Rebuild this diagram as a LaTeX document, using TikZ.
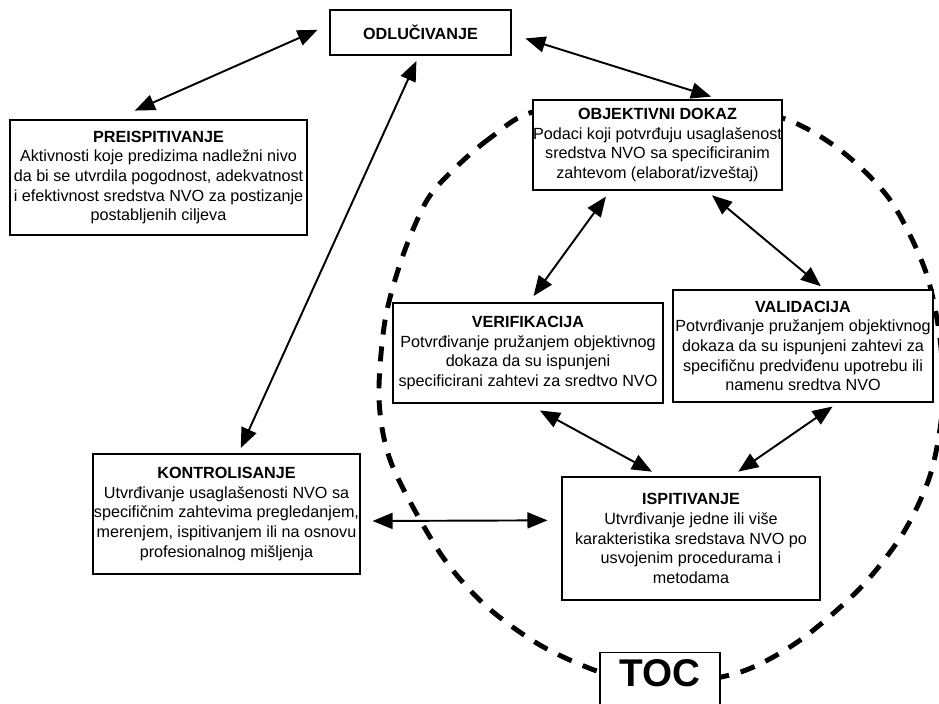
\documentclass[tikz,border=0pt]{standalone}
\usepackage{fontspec}
\setmainfont{Liberation Sans}
\usetikzlibrary{arrows.meta}
\tikzset{
  okvir/.style={draw, line width=0.6pt, fill=white, align=center, inner sep=0pt,
    font=\fontsize{9.2}{11.2}\selectfont},
  veza/.style={{Triangle[length=4mm,width=3.2mm]}-{Triangle[length=4mm,width=3.2mm]}, line width=1.1pt},
}
\begin{document}
\begin{tikzpicture}
  \useasboundingbox (0,0) rectangle (18.78,-14.08);

  % gestrichelter Kreis (Punkte in Pixeln)
  \begin{scope}[x=0.02cm, y=-0.02cm]
    \draw[line width=2.8pt, dash pattern=on 0.3cm off 0.24cm]
      plot[smooth cycle] coordinates {(533,112) (490,138) (455,168) (427,200) (403,255) (385,320)
        (379,400) (392,465) (440,553) (485,605) (540,645) (600,672) (660,685) (740,672)
        (800,640) (860,588) (903,533) (930,475) (942,410) (940,340) (925,270) (890,200)
        (840,150) (782,118) (700,108) (620,108)};
  \end{scope}

  % Kästen
  \node[okvir, minimum width=3.62cm, minimum height=0.9cm] (odl) at (8.41,-0.65) {\textbf{ODLUČIVANJE}};
  \node[okvir, minimum width=5.94cm, minimum height=2.3cm] (preisp) at (3.17,-3.55)
    {\textbf{PREISPITIVANJE}\\ Aktivnosti koje predizima nadležni nivo\\ da bi se utvrdila pogodnost, adekvatnost\\ i efektivnost sredstva NVO za postizanje\\ postabljenih ciljeva};
  \node[okvir, minimum width=4.98cm, minimum height=1.8cm] (obj) at (13.15,-2.9)
    {\textbf{OBJEKTIVNI DOKAZ}\\ Podaci koji potvrđuju usaglašenost\\ sredstva NVO sa specificiranim\\ zahtevom (elaborat/izveštaj)};
  \node[okvir, minimum width=5.4cm, minimum height=2.0cm] (verif) at (10.56,-7.06)
    {\textbf{VERIFIKACIJA}\\ Potvrđivanje pružanjem objektivnog\\ dokaza da su ispunjeni\\ specificirani zahtevi za sredtvo NVO};
  \node[okvir, minimum width=5.2cm, minimum height=2.24cm] (valid) at (16.06,-6.92)
    {\textbf{VALIDACIJA}\\ Potvrđivanje pružanjem objektivnog\\ dokaza da su ispunjeni zahtevi za\\ specifičnu predviđenu upotrebu ili\\ namenu sredtva NVO};
  \node[okvir, minimum width=5.34cm, minimum height=2.4cm] (kontrol) at (4.53,-10.28)
    {\textbf{KONTROLISANJE}\\ Utvrđivanje usaglašenosti NVO sa\\ specifičnim zahtevima pregledanjem,\\ merenjem, ispitivanjem ili na osnovu\\ profesionalnog mišljenja};
  \node[okvir, minimum width=5.16cm, minimum height=2.46cm] (ispit) at (13.82,-10.77)
    {\textbf{ISPITIVANJE}\\ Utvrđivanje jedne ili više\\ karakteristika sredstava NVO po\\ usvojenim procedurama i\\ metodama};
  \node[okvir, minimum width=2.4cm, text height=0.68cm, text depth=1cm, anchor=north] (toc) at (13.2,-13.04)
    {\fontsize{22}{24}\selectfont\textbf{TOC}};

  % Pfeile
  \draw[veza, shorten <=0.26cm, shorten >=0.44cm] (odl.175) -- (preisp.127);
  \draw[veza, shorten <=0.29cm, shorten >=0.19cm] (odl.-1) -- (obj.36);
  \draw[veza, shorten <=0.12cm, shorten >=0.12cm] (odl.-94) -- (kontrol.79);
  \draw[veza, shorten <=0.15cm, shorten >=0.16cm] (obj.-136) -- (verif.89);
  \draw[veza, shorten <=0.15cm, shorten >=0.1cm] (obj.-43) -- (valid.69);
  \draw[veza, shorten <=0.29cm, shorten >=0.2cm] (verif.-91) -- (ispit.116);
  \draw[veza, shorten <=0.14cm, shorten >=0.17cm] (valid.-58) -- (ispit.57);
  \draw[veza, shorten <=0.24cm, shorten >=0.28cm] (kontrol.-3.4) -- (ispit.172.7);
\end{tikzpicture}
\end{document}
